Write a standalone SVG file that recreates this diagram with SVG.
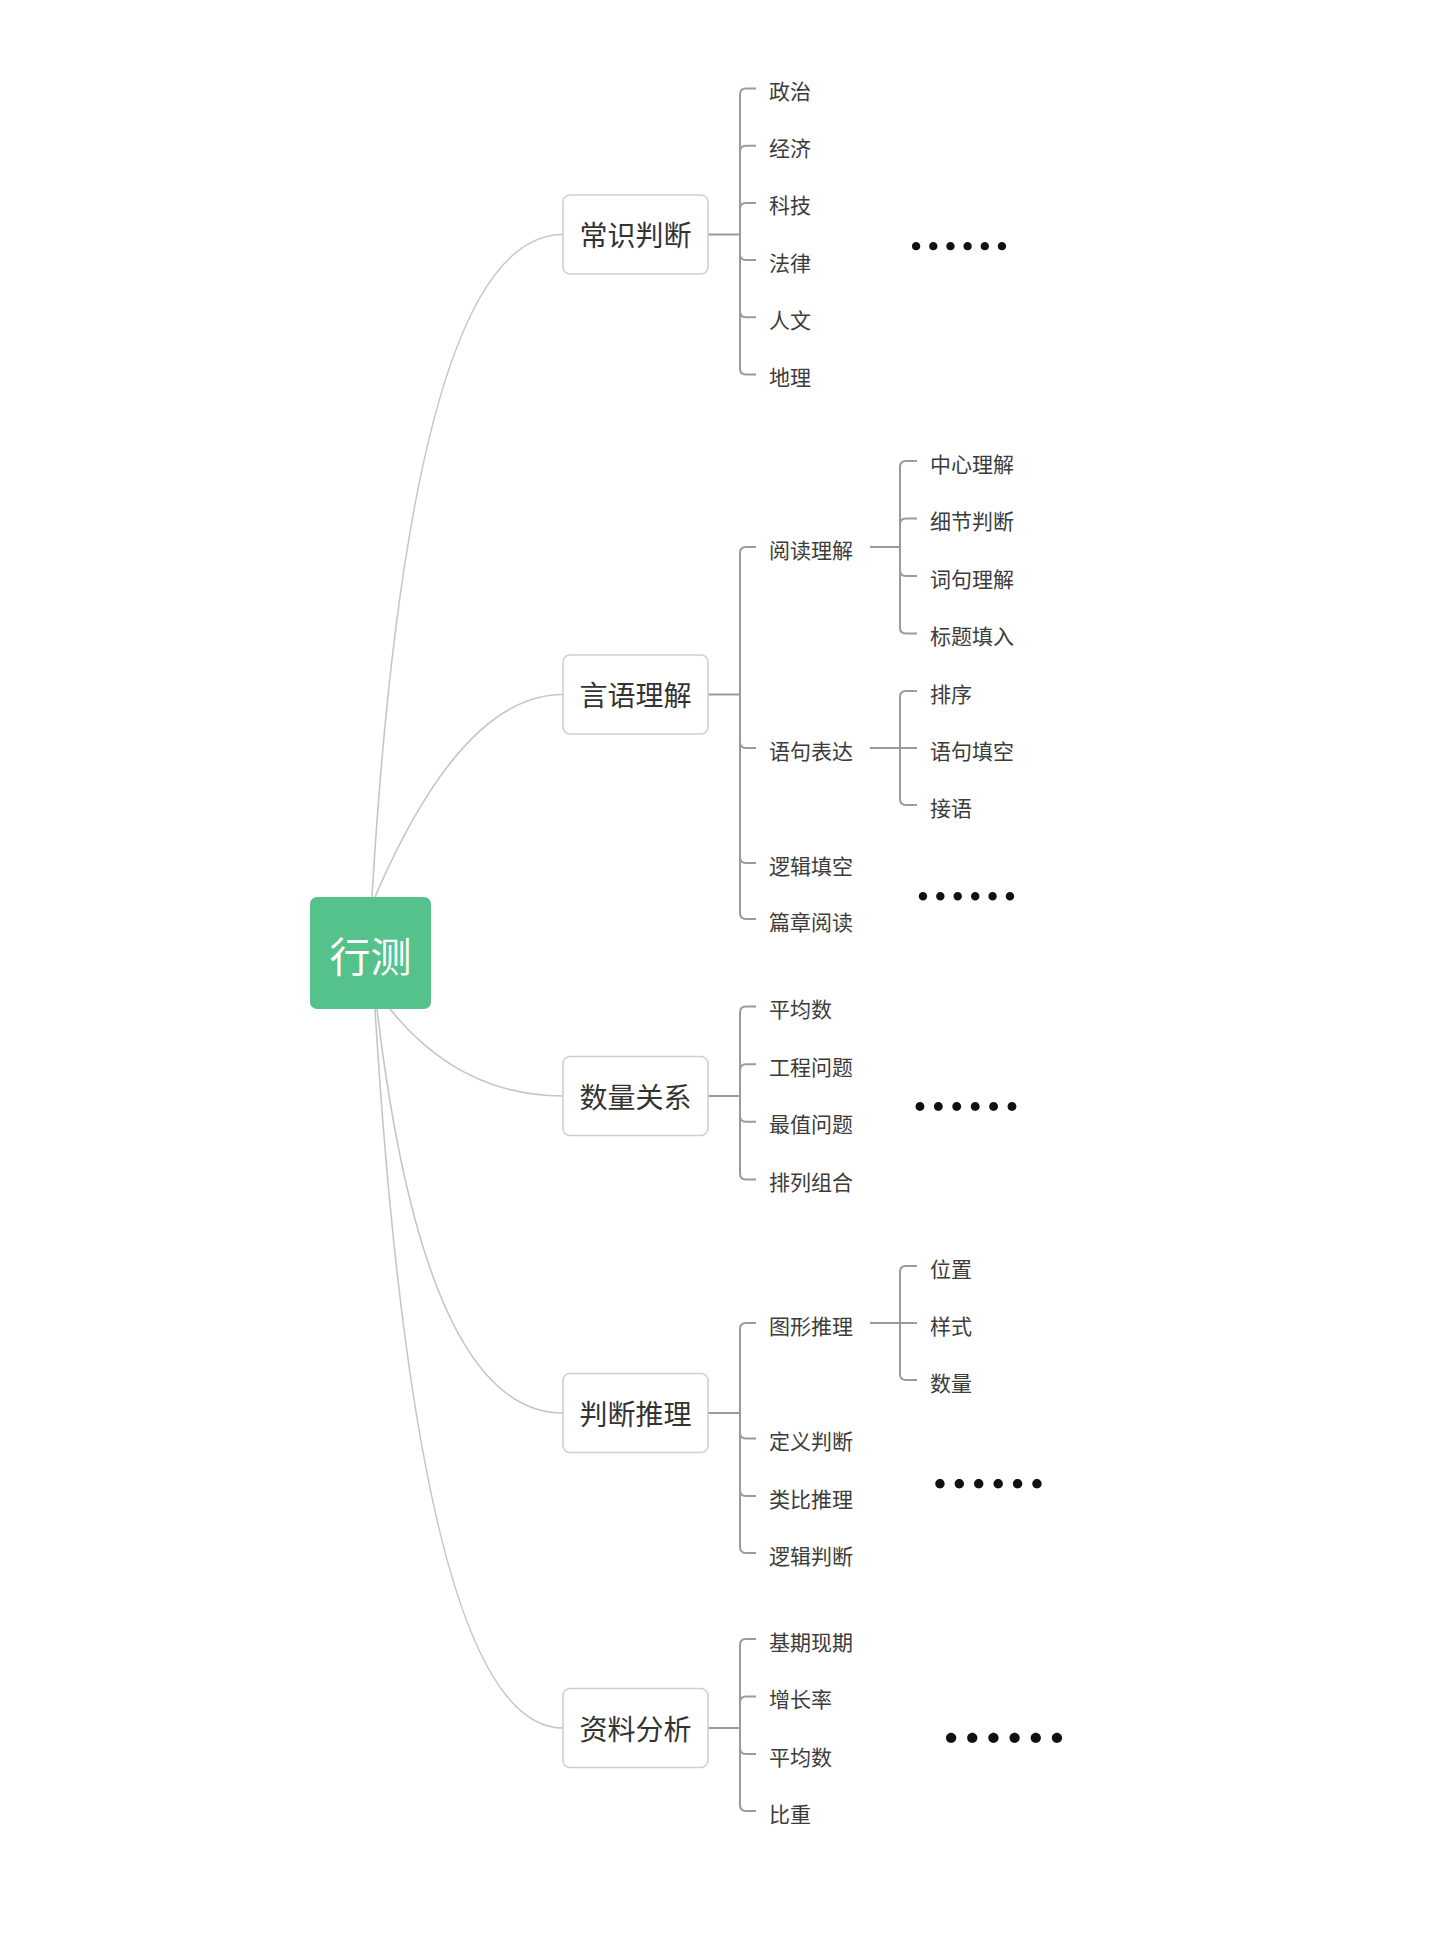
<svg xmlns="http://www.w3.org/2000/svg" width="1440" height="1946" viewBox="0 0 1440 1946">
<style>
.bg{fill:#ffffff}
.curve{fill:none;stroke:#c6c6c6;stroke-width:1.6}
.br{fill:none;stroke:#9a9a9a;stroke-width:2}
.box{fill:#ffffff;stroke:#cfcfcf;stroke-width:1.6}
.root{fill:#56C28B}
.t1{font-family:"Noto Sans CJK SC","Noto Sans",sans-serif;font-size:28px;fill:#333333;text-anchor:middle;dominant-baseline:central}
.t0{font-family:"Noto Sans CJK SC","Noto Sans",sans-serif;font-size:41px;fill:#ffffff;text-anchor:middle;dominant-baseline:central}
.lf{font-family:"Noto Sans CJK SC","Noto Sans",sans-serif;font-size:21px;fill:#3c3c3c;dominant-baseline:central}
.dots{font-family:"Noto Sans CJK SC",sans-serif;fill:#111111;font-weight:bold;dominant-baseline:central}
</style>
<rect class="bg" x="0" y="0" width="1440" height="1946"/>
<g id="connectors">
<path class="curve" d="M372 897 Q411 234.5 563 234.5"/>
<path class="curve" d="M375 897 Q462 694.5 563 694.5"/>
<path class="curve" d="M390 1009 Q460 1096 563 1096"/>
<path class="curve" d="M377 1009 Q425 1413 563 1413"/>
<path class="curve" d="M375 1009 Q419 1728 563 1728"/>
<!-- 常识判断 -->
<path class="br" d="M708 234.5 H740"/>
<path class="br" d="M740 234.5 V94.5 Q740 88.5 746 88.5 H756"/>
<path class="br" d="M740 234.5 V151.7 Q740 145.7 746 145.7 H756"/>
<path class="br" d="M740 234.5 V208.9 Q740 202.9 746 202.9 H756"/>
<path class="br" d="M740 234.5 V254.1 Q740 260.1 746 260.1 H756"/>
<path class="br" d="M740 234.5 V311.3 Q740 317.3 746 317.3 H756"/>
<path class="br" d="M740 234.5 V368.5 Q740 374.5 746 374.5 H756"/>
<!-- 言语理解 -->
<path class="br" d="M708 694.5 H740"/>
<path class="br" d="M740 694.5 V553 Q740 547 746 547 H756"/>
<path class="br" d="M740 694.5 V742 Q740 748 746 748 H756"/>
<path class="br" d="M740 694.5 V857 Q740 863 746 863 H756"/>
<path class="br" d="M740 694.5 V913 Q740 919 746 919 H756"/>
<path class="br" d="M870 547 H900"/>
<path class="br" d="M900 547 V467 Q900 461 906 461 H917"/>
<path class="br" d="M900 547 V524.5 Q900 518.5 906 518.5 H917"/>
<path class="br" d="M900 547 V570 Q900 576 906 576 H917"/>
<path class="br" d="M900 547 V627.5 Q900 633.5 906 633.5 H917"/>
<path class="br" d="M870 748 H900"/>
<path class="br" d="M900 748 V697 Q900 691 906 691 H917"/>
<path class="br" d="M900 748 H917"/>
<path class="br" d="M900 748 V799 Q900 805 906 805 H917"/>
<!-- 数量关系 -->
<path class="br" d="M708 1096 H740"/>
<path class="br" d="M740 1096 V1012.6 Q740 1006.6 746 1006.6 H756"/>
<path class="br" d="M740 1096 V1070.2 Q740 1064.2 746 1064.2 H756"/>
<path class="br" d="M740 1096 V1115.8 Q740 1121.8 746 1121.8 H756"/>
<path class="br" d="M740 1096 V1173.4 Q740 1179.4 746 1179.4 H756"/>
<!-- 判断推理 -->
<path class="br" d="M708 1413 H740"/>
<path class="br" d="M740 1413 V1329 Q740 1323 746 1323 H756"/>
<path class="br" d="M740 1413 V1432.5 Q740 1438.5 746 1438.5 H756"/>
<path class="br" d="M740 1413 V1490 Q740 1496 746 1496 H756"/>
<path class="br" d="M740 1413 V1547 Q740 1553 746 1553 H756"/>
<path class="br" d="M870 1323 H900"/>
<path class="br" d="M900 1323 V1272 Q900 1266 906 1266 H917"/>
<path class="br" d="M900 1323 H917"/>
<path class="br" d="M900 1323 V1374 Q900 1380 906 1380 H917"/>
<!-- 资料分析 -->
<path class="br" d="M708 1728 H740"/>
<path class="br" d="M740 1728 V1645 Q740 1639 746 1639 H756"/>
<path class="br" d="M740 1728 V1702.5 Q740 1696.5 746 1696.5 H756"/>
<path class="br" d="M740 1728 V1748 Q740 1754 746 1754 H756"/>
<path class="br" d="M740 1728 V1805 Q740 1811 746 1811 H756"/>
</g>
<g id="root">
<rect class="root" x="310" y="897" width="121" height="112" rx="7"/>
<text class="t0" x="370.5" y="954">行测</text>
</g>
<g id="n-changshi">
<rect class="box" x="563" y="195" width="145" height="79" rx="7"/>
<text class="t1" x="635.5" y="234">常识判断</text>
</g>
<g id="n-yanyu">
<rect class="box" x="563" y="655" width="145" height="79" rx="7"/>
<text class="t1" x="635.5" y="694">言语理解</text>
</g>
<g id="n-shuliang">
<rect class="box" x="563" y="1056.5" width="145" height="79" rx="7"/>
<text class="t1" x="635.5" y="1095.5">数量关系</text>
</g>
<g id="n-panduan">
<rect class="box" x="563" y="1373.5" width="145" height="79" rx="7"/>
<text class="t1" x="635.5" y="1412.5">判断推理</text>
</g>
<g id="n-ziliao">
<rect class="box" x="563" y="1688.5" width="145" height="79" rx="7"/>
<text class="t1" x="635.5" y="1727.5">资料分析</text>
</g>
<g id="leaves-changshi">
<text class="lf" x="769" y="90">政治</text>
<text class="lf" x="769" y="147.2">经济</text>
<text class="lf" x="769" y="204.4">科技</text>
<text class="lf" x="769" y="261.6">法律</text>
<text class="lf" x="769" y="318.8">人文</text>
<text class="lf" x="769" y="376">地理</text>
<text class="dots" x="907.4" y="243.5" font-size="51.6">……</text>
</g>
<g id="leaves-yanyu">
<text class="lf" x="769" y="548.5">阅读理解</text>
<text class="lf" x="769" y="749.5">语句表达</text>
<text class="lf" x="769" y="864.5">逻辑填空</text>
<text class="lf" x="769" y="920.5">篇章阅读</text>
<text class="lf" x="930" y="462.5">中心理解</text>
<text class="lf" x="930" y="520">细节判断</text>
<text class="lf" x="930" y="577.5">词句理解</text>
<text class="lf" x="930" y="635">标题填入</text>
<text class="lf" x="930" y="692.5">排序</text>
<text class="lf" x="930" y="749.5">语句填空</text>
<text class="lf" x="930" y="806.5">接语</text>
<text class="dots" x="914.3" y="892.5" font-size="52.2">……</text>
</g>
<g id="leaves-shuliang">
<text class="lf" x="769" y="1008.1">平均数</text>
<text class="lf" x="769" y="1065.7">工程问题</text>
<text class="lf" x="769" y="1123.3">最值问题</text>
<text class="lf" x="769" y="1180.9">排列组合</text>
<text class="dots" x="910.8" y="1104" font-size="55.2">……</text>
</g>
<g id="leaves-panduan">
<text class="lf" x="769" y="1324.5">图形推理</text>
<text class="lf" x="769" y="1440">定义判断</text>
<text class="lf" x="769" y="1497.5">类比推理</text>
<text class="lf" x="769" y="1554.5">逻辑判断</text>
<text class="lf" x="930" y="1267.5">位置</text>
<text class="lf" x="930" y="1324.5">样式</text>
<text class="lf" x="930" y="1381.5">数量</text>
<text class="dots" x="930.3" y="1480.5" font-size="58.2">……</text>
</g>
<g id="leaves-ziliao">
<text class="lf" x="769" y="1640.5">基期现期</text>
<text class="lf" x="769" y="1698">增长率</text>
<text class="lf" x="769" y="1755.5">平均数</text>
<text class="lf" x="769" y="1812.5">比重</text>
<text class="dots" x="940.4" y="1734" font-size="63.6">……</text>
</g>
</svg>
